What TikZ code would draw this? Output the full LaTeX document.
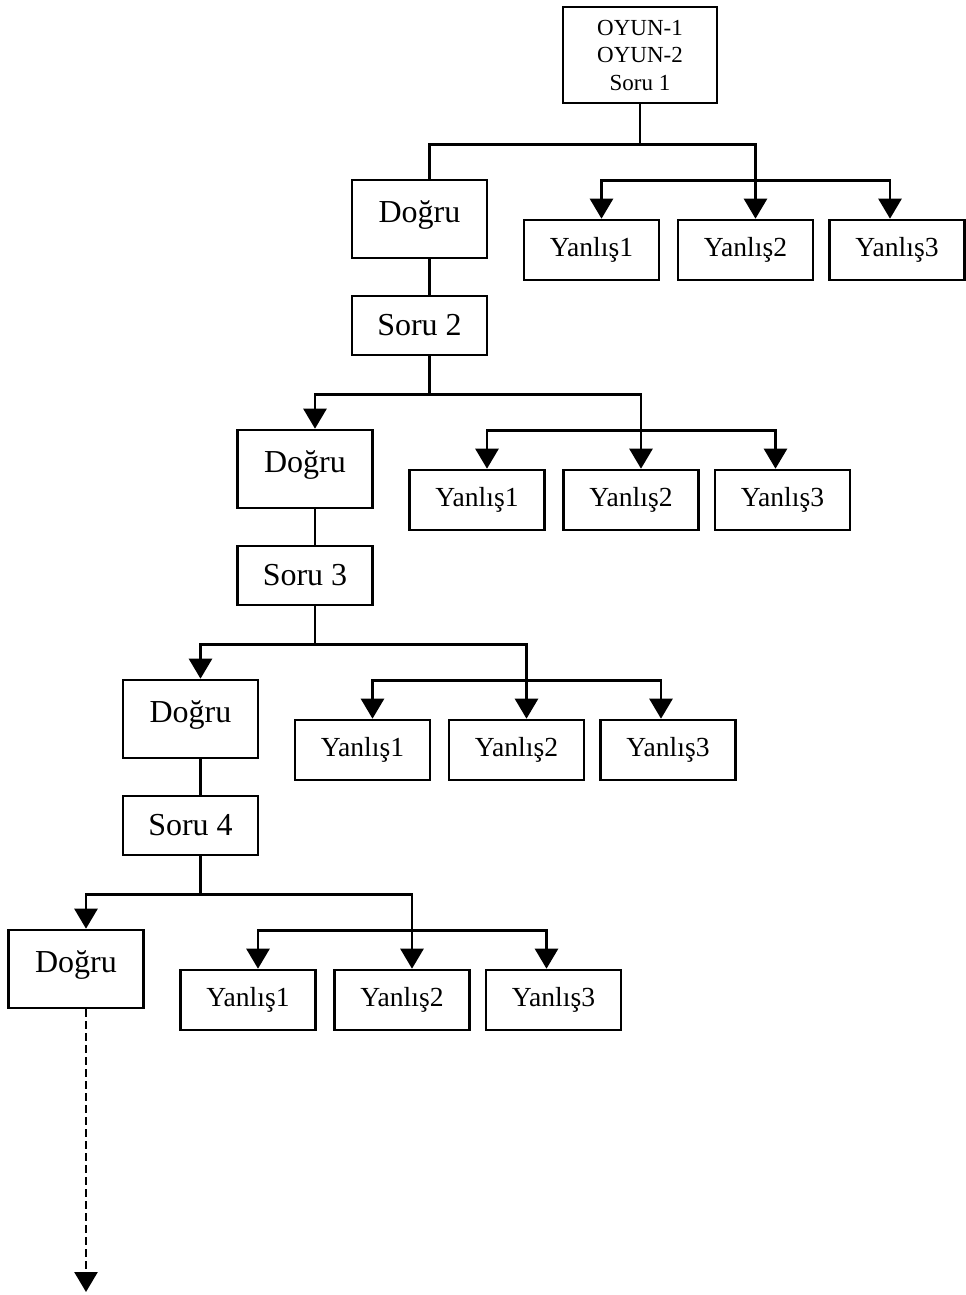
\documentclass[tikz,border=0pt]{standalone}
\usepackage{fontspec}
\setmainfont{Liberation Serif}
\usetikzlibrary{arrows.meta}

\begin{document}
\begin{tikzpicture}[x=0.5pt, y=-0.5pt, line width=1.3pt,
    startbox/.style={draw, align=center, minimum width=77pt, minimum height=48pt,
      font=\fontsize{11.5}{13.75}\selectfont},
    dogrubox/.style={draw, minimum width=67.5pt, minimum height=39pt,
      text height=11pt, text depth=8pt, font=\fontsize{16}{19}\selectfont},
    sorubox/.style={draw, minimum width=67.5pt, minimum height=29.5pt,
      font=\fontsize{16}{19}\selectfont},
    yanlisbox/.style={draw, minimum width=67.5pt, minimum height=30pt,
      font=\fontsize{13.8}{16}\selectfont},
    arr/.style={-{Triangle[length=10pt, width=11.5pt]}}]

    \useasboundingbox (0,0) rectangle (965,1295);

    % the game and the first question at the top
    \node[startbox] (start) at (640,55) {OYUN-1\\OYUN-2\\Soru 1};

    % first level: right answer goes on, wrong answers stop
    \node[dogrubox] (d1) at (419.5,219) {Doğru};
    \node[sorubox] (s2) at (419.5,325.5) {Soru 2};
    \node[yanlisbox] (y1a) at (591.5,250) {Yanlış1};
    \node[yanlisbox] (y1b) at (745.5,250) {Yanlış2};
    \node[yanlisbox] (y1c) at (897,250) {Yanlış3};

    \draw (start.south) -- ++(0,40) coordinate (b1);
    \draw (b1) -| ([xshift=5pt]d1.north);
    \draw[arr] (b1) -| ([xshift=5pt]y1b.north);
    \path ([xshift=5pt]y1b.north) ++(0,-38) coordinate (c1);
    \draw[arr] (c1) -| ([xshift=5pt]y1a.north);
    \draw[arr] (c1) -| ([xshift=-3.5pt]y1c.north);
    \draw ([xshift=5pt]d1.south) -- ([xshift=5pt]s2.north);

    % second level
    \node[dogrubox] (d2) at (305,469) {Doğru};
    \node[sorubox] (s3) at (305,575.5) {Soru 3};
    \node[yanlisbox] (y2a) at (477,500) {Yanlış1};
    \node[yanlisbox] (y2b) at (631,500) {Yanlış2};
    \node[yanlisbox] (y2c) at (782.5,500) {Yanlış3};

    \draw ([xshift=5pt]s2.south) -- ++(0,38) coordinate (b2);
    \draw[arr] (b2) -| ([xshift=5pt]d2.north);
    \draw[arr] (b2) -| ([xshift=5pt]y2b.north);
    \path ([xshift=5pt]y2b.north) ++(0,-38) coordinate (c2);
    \draw[arr] (c2) -| ([xshift=5pt]y2a.north);
    \draw[arr] (c2) -| ([xshift=-3.5pt]y2c.north);
    \draw ([xshift=5pt]d2.south) -- ([xshift=5pt]s3.north);

    % third level
    \node[dogrubox] (d3) at (190.5,719) {Doğru};
    \node[sorubox] (s4) at (190.5,825.5) {Soru 4};
    \node[yanlisbox] (y3a) at (362.5,750) {Yanlış1};
    \node[yanlisbox] (y3b) at (516.5,750) {Yanlış2};
    \node[yanlisbox] (y3c) at (668,750) {Yanlış3};

    \draw ([xshift=5pt]s3.south) -- ++(0,38) coordinate (b3);
    \draw[arr] (b3) -| ([xshift=5pt]d3.north);
    \draw[arr] (b3) -| ([xshift=5pt]y3b.north);
    \path ([xshift=5pt]y3b.north) ++(0,-38) coordinate (c3);
    \draw[arr] (c3) -| ([xshift=5pt]y3a.north);
    \draw[arr] (c3) -| ([xshift=-3.5pt]y3c.north);
    \draw ([xshift=5pt]d3.south) -- ([xshift=5pt]s4.north);

    % fourth level
    \node[dogrubox] (d4) at (76,969) {Doğru};
    \node[yanlisbox] (y4a) at (248,1000) {Yanlış1};
    \node[yanlisbox] (y4b) at (402,1000) {Yanlış2};
    \node[yanlisbox] (y4c) at (553.5,1000) {Yanlış3};

    \draw ([xshift=5pt]s4.south) -- ++(0,38) coordinate (b4);
    \draw[arr] (b4) -| ([xshift=5pt]d4.north);
    \draw[arr] (b4) -| ([xshift=5pt]y4b.north);
    \path ([xshift=5pt]y4b.north) ++(0,-38) coordinate (c4);
    \draw[arr] (c4) -| ([xshift=5pt]y4a.north);
    \draw[arr] (c4) -| ([xshift=-3.5pt]y4c.north);

    % and so on: dashed arrow for the next questions
    \coordinate (devam) at (86,1292);
    \draw[arr, dash pattern=on 4pt off 2pt] ([xshift=5pt]d4.south) -- (devam);

\end{tikzpicture}
\end{document}
